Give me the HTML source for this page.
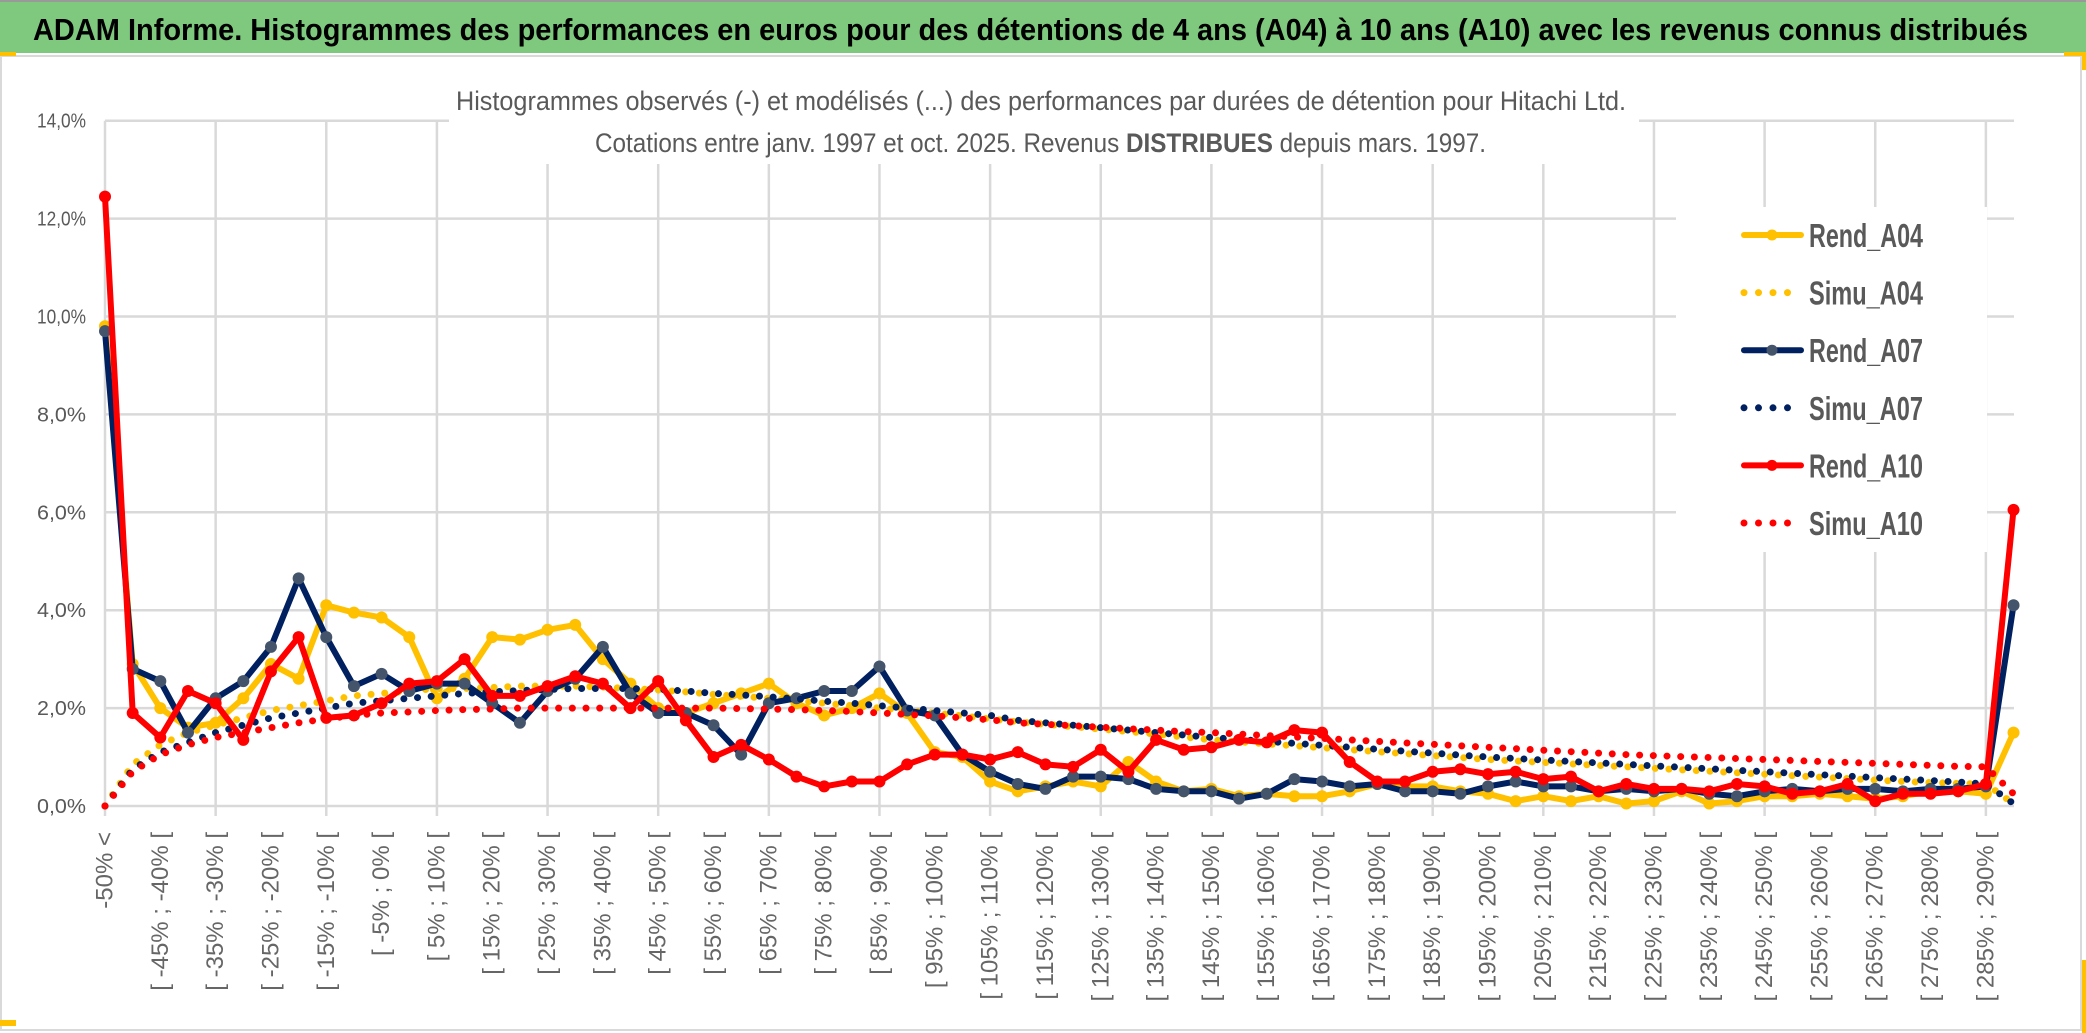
<!DOCTYPE html>
<html><head><meta charset="utf-8"><style>
html,body{margin:0;padding:0;background:#fff;}
svg{display:block;}
text{font-family:"Liberation Sans",sans-serif;}
</style></head><body>
<svg id="chart" width="2086" height="1033" viewBox="0 0 2086 1033" xmlns="http://www.w3.org/2000/svg">
<rect x="0" y="0" width="2086" height="1033" fill="#fff"/>
<rect x="0" y="2" width="2086" height="51" fill="#7FC97F"/>
<line x1="0" y1="1" x2="2086" y2="1" stroke="#999" stroke-width="2"/>
<text x="33" y="40" font-size="31" font-weight="bold" fill="#000" textLength="1995" lengthAdjust="spacingAndGlyphs">ADAM Informe. Histogrammes des performances en euros pour des détentions de 4 ans (A04) à 10 ans (A10) avec les revenus connus distribués</text>
<rect x="1" y="56" width="2080" height="974" fill="none" stroke="#d9d9d9" stroke-width="2"/>
<rect x="0" y="52" width="16" height="4" fill="#FFC000"/>
<rect x="2064" y="52" width="20" height="4" fill="#FFC000"/>
<rect x="2082" y="52" width="4" height="18" fill="#FFC000"/>
<rect x="2082" y="960" width="4" height="73" fill="#FFC000"/>
<rect x="0" y="1020" width="16" height="6" fill="#FFC000"/>
<g id="grid"></g>
<g id="yaxis"></g>
<g id="xaxis"></g>
<rect x="449" y="60" width="1190" height="104" fill="#fff"/>
<text x="456" y="110" font-size="27" fill="#595959" textLength="1170" lengthAdjust="spacingAndGlyphs">Histogrammes observés (-) et modélisés (...) des performances par durées de détention pour Hitachi Ltd.</text>
<text x="595" y="152" font-size="27" fill="#595959" textLength="891" lengthAdjust="spacingAndGlyphs">Cotations entre janv. 1997 et oct. 2025. Revenus <tspan font-weight="bold">DISTRIBUES</tspan> depuis mars. 1997.</text>
<g id="series"></g>
<rect x="1676" y="207" width="311" height="345" fill="#fff"/>
<g id="legend"></g>
</svg>
<script>
const categories = (function(){const a=["-50% <"];for(let k=1;k<70;k++){const lo=-55+5*k;a.push(k<69?"[ "+lo+"% ; "+(lo+5)+"% [":"290% <");}return a;})();
const yTicks = [0,2,4,6,8,10,12,14];
const rendA04 = [9.8,2.9,2.0,1.6,1.7,2.2,2.9,2.6,4.1,3.95,3.85,3.45,2.2,2.6,3.45,3.4,3.6,3.7,3.0,2.5,2.0,1.9,2.1,2.3,2.5,2.1,1.85,2.0,2.3,1.9,1.1,1.0,0.5,0.3,0.4,0.5,0.4,0.9,0.5,0.3,0.35,0.2,0.25,0.2,0.2,0.3,0.45,0.4,0.4,0.3,0.25,0.1,0.2,0.1,0.2,0.05,0.1,0.3,0.05,0.1,0.2,0.2,0.25,0.2,0.15,0.2,0.3,0.3,0.25,1.5];
const rendA07 = [9.7,2.8,2.55,1.5,2.2,2.55,3.25,4.65,3.45,2.45,2.7,2.35,2.5,2.5,2.1,1.7,2.35,2.6,3.25,2.3,1.9,1.9,1.65,1.05,2.1,2.2,2.35,2.35,2.85,1.95,1.85,1.05,0.7,0.45,0.35,0.6,0.6,0.55,0.35,0.3,0.3,0.15,0.25,0.55,0.5,0.4,0.45,0.3,0.3,0.25,0.4,0.5,0.4,0.4,0.3,0.35,0.3,0.35,0.25,0.2,0.3,0.35,0.3,0.35,0.35,0.3,0.35,0.35,0.4,4.1];
const rendA10 = [12.45,1.9,1.4,2.35,2.1,1.35,2.75,3.45,1.8,1.85,2.1,2.5,2.55,3.0,2.25,2.25,2.45,2.65,2.5,2.0,2.55,1.75,1.0,1.25,0.95,0.6,0.4,0.5,0.5,0.85,1.05,1.05,0.95,1.1,0.85,0.8,1.15,0.7,1.35,1.15,1.2,1.35,1.3,1.55,1.5,0.9,0.5,0.5,0.7,0.75,0.65,0.7,0.55,0.6,0.3,0.45,0.35,0.35,0.3,0.45,0.4,0.25,0.3,0.45,0.1,0.25,0.25,0.3,0.45,6.05];
const simuA04 = [0,0.85,1.25,1.5,1.65,1.8,1.95,2.05,2.15,2.25,2.3,2.35,2.4,2.4,2.42,2.45,2.45,2.45,2.43,2.4,2.37,2.33,2.28,2.24,2.2,2.15,2.1,2.05,2.0,1.95,1.9,1.84,1.78,1.72,1.67,1.62,1.57,1.52,1.47,1.41,1.35,1.31,1.27,1.23,1.19,1.15,1.11,1.07,1.03,0.99,0.95,0.92,0.89,0.86,0.83,0.8,0.77,0.74,0.71,0.68,0.65,0.62,0.59,0.56,0.53,0.5,0.48,0.46,0.45,0.05];
const simuA07 = [0,0.75,1.1,1.3,1.5,1.65,1.8,1.9,2.0,2.1,2.15,2.2,2.25,2.3,2.33,2.36,2.38,2.4,2.4,2.4,2.38,2.35,2.3,2.27,2.23,2.19,2.14,2.1,2.05,2.0,1.95,1.9,1.85,1.75,1.7,1.65,1.6,1.55,1.5,1.45,1.4,1.36,1.32,1.28,1.24,1.2,1.16,1.12,1.08,1.04,1.0,0.97,0.94,0.91,0.88,0.85,0.82,0.79,0.76,0.73,0.7,0.67,0.64,0.61,0.58,0.55,0.52,0.49,0.45,0.05];
const simuA10 = [0,0.7,1.05,1.25,1.4,1.5,1.6,1.7,1.78,1.85,1.9,1.92,1.95,1.97,1.98,2.0,2.0,2.0,2.0,2.0,2.0,2.0,2.0,1.99,1.98,1.97,1.95,1.93,1.9,1.87,1.84,1.8,1.76,1.7,1.67,1.64,1.61,1.58,1.55,1.52,1.5,1.47,1.44,1.41,1.38,1.35,1.32,1.29,1.26,1.23,1.2,1.17,1.14,1.11,1.08,1.05,1.03,1.01,0.99,0.97,0.95,0.93,0.91,0.89,0.87,0.85,0.83,0.81,0.8,0.25];
const seriesNames = ["Rend_A04","Simu_A04","Rend_A07","Simu_A07","Rend_A10","Simu_A10"];

const NS="http://www.w3.org/2000/svg";
const X0=105, DX=27.66, Y0=806, YS=97.9/2, XR=2014, YTOP=806-14*YS;
function xs(i){return X0+i*DX;}
function ys(v){return Y0-v*YS;}
function mk(tag,attrs,parent){const e=document.createElementNS(NS,tag);for(const k in attrs)e.setAttribute(k,attrs[k]);parent.appendChild(e);return e;}

const grid=document.getElementById('grid');
yTicks.forEach(function(t){
  const l=mk('line',{x1:X0,x2:XR,y1:ys(t),y2:ys(t),stroke:'#d9d9d9','stroke-width':2.5},grid);
  
  
});
for(let i=0;i<categories.length;i+=4){
  const l=mk('line',{x1:xs(i),x2:xs(i),y1:YTOP,y2:ys(0)+10,stroke:'#d9d9d9','stroke-width':2.5},grid);
  
  
}
const yax=document.getElementById('yaxis');
yTicks.forEach(function(t){
  const tx=mk('text',{x:86,y:ys(t)+7,'text-anchor':'end','font-size':20,fill:'#595959',textLength:49,lengthAdjust:'spacingAndGlyphs'},yax);
  tx.textContent=t.toFixed(1).replace('.',',')+'%';
  
  
});
const xax=document.getElementById('xaxis');
for(let i=0;i<categories.length;i+=2){
  const x=xs(i);
  const tx=mk('text',{x:0,y:0,'text-anchor':'end','dominant-baseline':'central','font-size':24,fill:'#666',transform:'translate('+x+',832) rotate(-90)'},xax);
  tx.textContent=categories[i];
  
  
}
const sg=document.getElementById('series');
function pts(arr){return arr.map(function(v,i){return xs(i).toFixed(1)+','+ys(v).toFixed(1);}).join(' ');}
function drawSolid(arr,color,mcolor,name){
  const g=mk('g',{},sg);
  
  
  mk('polyline',{points:pts(arr),fill:'none',stroke:color,'stroke-width':6,'stroke-linejoin':'round'},g);
  arr.forEach(function(v,i){
    const c=mk('circle',{cx:xs(i),cy:ys(v),r:6,fill:mcolor},g);
    
    
  });
}
function drawDotted(arr,color,name){
  const p=mk('polyline',{points:pts(arr),fill:'none',stroke:color,'stroke-width':7,'stroke-linecap':'round','stroke-dasharray':'0 13.7'},sg);
  
  
}
drawSolid(rendA04,'#FFC000','#FFC000','rend-a04-line');
drawDotted(simuA04,'#FFC000','simu-a04-line');
drawSolid(rendA07,'#002060','#44546A','rend-a07-line');
drawDotted(simuA07,'#002060','simu-a07-line');
drawSolid(rendA10,'#FF0000','#FF0000','rend-a10-line');
drawDotted(simuA10,'#FF0000','simu-a10-line');

const lg=document.getElementById('legend');
const legColors=['#FFC000','#FFC000','#002060','#002060','#FF0000','#FF0000'];
const legMarker=['#FFC000',null,'#44546A',null,'#FF0000',null];
seriesNames.forEach(function(n,k){
  const y=235+k*57.6;
  const g=mk('g',{},lg);
  
  
  if(legMarker[k]){
    mk('line',{x1:1744,x2:1801,y1:y,y2:y,stroke:legColors[k],'stroke-width':6,'stroke-linecap':'round'},g);
    mk('circle',{cx:1772,cy:y,r:5.5,fill:legMarker[k]},g);
  } else {
    mk('line',{x1:1744,x2:1801,y1:y,y2:y,stroke:legColors[k],'stroke-width':7,'stroke-linecap':'round','stroke-dasharray':'0 14.5'},g);
  }
  const t=mk('text',{x:1809,y:y+12,'font-size':33,'font-weight':'600',fill:'#595959',textLength:114,lengthAdjust:'spacingAndGlyphs'},g);
  t.textContent=n;
});
</script>
</body></html>
